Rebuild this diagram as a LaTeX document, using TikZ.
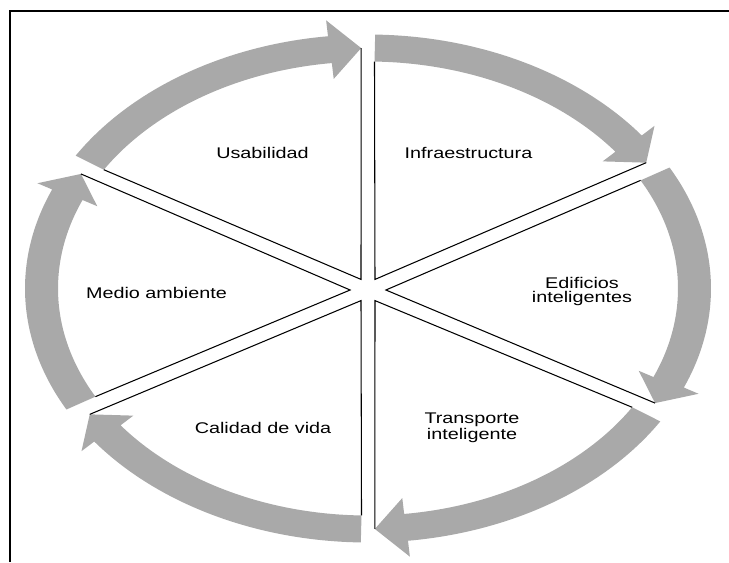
\documentclass[tikz,border=0pt]{standalone}
\usepackage{fontspec}
\setmainfont{Liberation Sans}
\usepackage{tikz}
\definecolor{ringgray}{RGB}{169,169,169}

\begin{document}
\begin{tikzpicture}[x=0.02cm,y=0.02cm,
  band/.style={fill=ringgray},
  spoke/.style={black,line width=0.6pt},
  frame/.style={black,line width=1.3pt},
  lbl/.style={font=\fontsize{8.8}{8}\selectfont,align=center,xscale=1.28,transform shape,inner sep=0pt}]
\useasboundingbox (-368,-273.5) rectangle (361,288.5);
\draw[frame] (-358,-273.5) -- (-358,277.5) -- (361,277.5);
% arrows round the ring
\fill[band] (148.45:343 and 254) arc(148.45:96.7:343 and 254) -- (96.7:359 and 270) -- (91.2:326.5 and 240.5) -- (96.7:294 and 211) -- (96.7:310 and 227) arc(96.7:148.45:310 and 227) -- cycle;
\fill[band] (88.8:343 and 254) arc(88.8:37.05:343 and 254) -- (37.05:359 and 270) -- (31.55:326.5 and 240.5) -- (37.05:294 and 211) -- (37.05:310 and 227) arc(37.05:88.8:310 and 227) -- cycle;
\fill[band] (28.45:343 and 254) arc(28.45:-22.95:343 and 254) -- (-22.95:359 and 270) -- (-28.45:326.5 and 240.5) -- (-22.95:294 and 211) -- (-22.95:310 and 227) arc(-22.95:28.45:310 and 227) -- cycle;
\fill[band] (-31.55:343 and 254) arc(-31.55:-83.3:343 and 254) -- (-83.3:359 and 270) -- (-88.8:326.5 and 240.5) -- (-83.3:294 and 211) -- (-83.3:310 and 227) arc(-83.3:-31.55:310 and 227) -- cycle;
\fill[band] (-91.2:343 and 254) arc(-91.2:-142.95:343 and 254) -- (-142.95:359 and 270) -- (-148.45:326.5 and 240.5) -- (-142.95:294 and 211) -- (-142.95:310 and 227) arc(-142.95:-91.2:310 and 227) -- cycle;
\fill[band] (208.45:343 and 254) arc(208.45:157.05:343 and 254) -- (157.05:359 and 270) -- (151.55:326.5 and 240.5) -- (157.05:294 and 211) -- (157.05:310 and 227) arc(157.05:208.45:310 and 227) -- cycle;
% sector corners at the hub
\coordinate (hubU) at (-7,9.1);
\coordinate (hubI) at (7,9.1);
\coordinate (hubE) at (17.9,-1.5);
\coordinate (hubT) at (7,-12.1);
\coordinate (hubC) at (-7,-12.1);
\coordinate (hubM) at (-17.9,-1.5);
\draw[spoke] (91.2:326.5 and 240.5) -- (hubU) -- (148.45:310 and 227);
\draw[spoke] (31.55:326.5 and 240.5) -- (hubI) -- (88.8:310 and 227);
\draw[spoke] (-28.45:326.5 and 240.5) -- (hubE) -- (28.45:310 and 227);
\draw[spoke] (-88.8:326.5 and 240.5) -- (hubT) -- (-31.55:310 and 227);
\draw[spoke] (-148.45:326.5 and 240.5) -- (hubC) -- (-91.2:310 and 227);
\draw[spoke] (151.55:326.5 and 240.5) -- (hubM) -- (208.45:310 and 227);
% labels
\node[lbl] (usab) at (-105.5,135.5) {Usabilidad};
\node[lbl] (infra) at (100.5,135.5) {Infraestructura};
\node[lbl] (edif) at (214,-3) {Edificios\\inteligentes};
\node[lbl] (transp) at (104,-139) {Transporte\\inteligente};
\node[lbl] (calid) at (-105,-139.5) {Calidad de vida};
\node[lbl] (medio) at (-211.5,-4.5) {Medio ambiente};
\end{tikzpicture}
\end{document}
